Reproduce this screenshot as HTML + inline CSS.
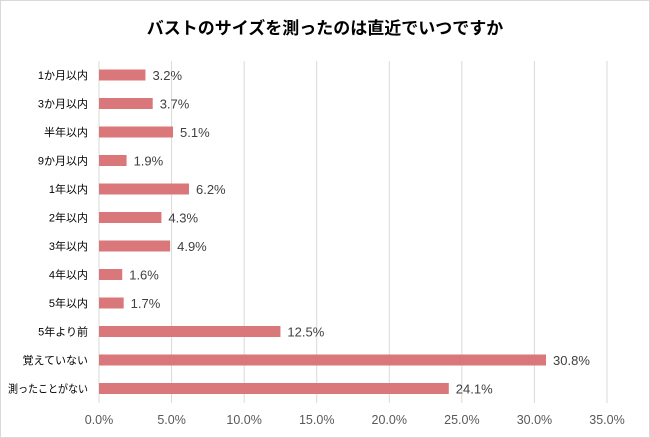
<!DOCTYPE html>
<html><head><meta charset="utf-8"><style>
body{margin:0;background:#fff}
#c{position:absolute;left:0;top:0;width:648px;height:436px;border:1px solid #d9d9d9;background:#fff}
#s{position:absolute;left:-1px;top:-1px}
text{font-family:"Liberation Sans","Noto Sans CJK JP",sans-serif}
</style></head><body>
<div id="c">
<svg id="s" width="650" height="438">
<text x="325" y="34" text-anchor="middle" font-size="17" font-weight="bold" fill="#000">バストのサイズを測ったのは直近でいつですか</text>
</svg></div>
<script>
const categories=["1か月以内","3か月以内","半年以内","9か月以内","1年以内","2年以内","3年以内","4年以内","5年以内","5年より前","覚えていない","測ったことがない"];
const values=[3.2,3.7,5.1,1.9,6.2,4.3,4.9,1.6,1.7,12.5,30.8,24.1];
const ticks=[0,5,10,15,20,25,30,35];
const ns="http://www.w3.org/2000/svg",svgEl=document.getElementById('s');
const x0=99,x1=607,yTop=61,yBot=403,step=28.5,firstY=75;
const xs=v=>x0+(v/35)*(x1-x0);
const ys=i=>firstY+i*step;
function mk(t,a){const e=document.createElementNS(ns,t);for(const k in a)e.setAttribute(k,a[k]);svgEl.appendChild(e);return e;}
ticks.forEach(t=>{
const l=mk('line',{x1:xs(t),x2:xs(t),y1:yTop,y2:yBot,stroke:'#d9d9d9','stroke-width':1});


const tx=mk('text',{x:xs(t),y:424,'text-anchor':'middle','font-size':12.5,fill:'#595959'});
tx.textContent=t.toFixed(1)+'%';


});
categories.forEach((c,i)=>{
const y=ys(i);
const r=mk('rect',{x:xs(0),y:y-5.5,width:xs(values[i])-xs(0),height:11,fill:'#d9777a'});


const lb=mk('text',{x:88,y:y+4,'text-anchor':'end','font-size':11,fill:'#000'});
lb.textContent=c;


if(lb.getComputedTextLength()>80){lb.setAttribute('textLength',80);lb.setAttribute('lengthAdjust','spacingAndGlyphs');}
const v=mk('text',{x:xs(values[i])+7,y:y+5,'font-size':13,fill:'#404040'});
v.textContent=values[i].toFixed(1)+'%';


});
</script>
</body></html>
